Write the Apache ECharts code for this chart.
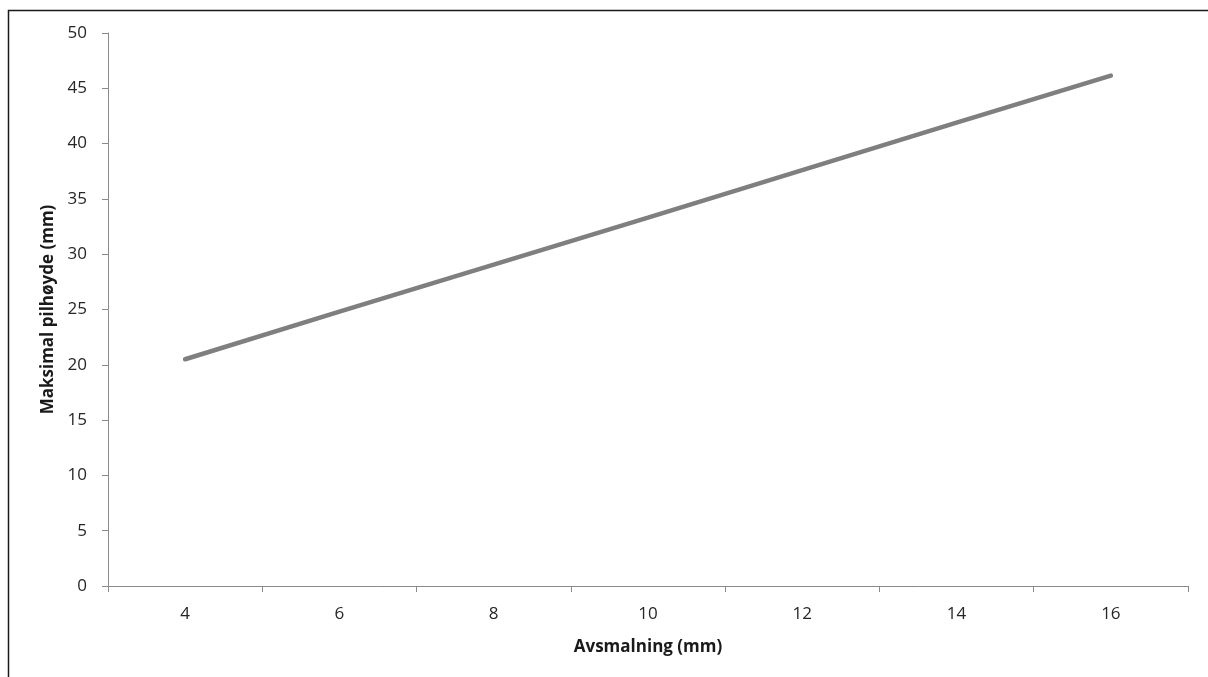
<!DOCTYPE html>
<html>
<head>
<meta charset="utf-8">
<script src="https://cdn.jsdelivr.net/npm/echarts@6/dist/echarts.min.js"></script>
<style>
html,body{margin:0;padding:0;background:#fff;}
#c{width:1208px;height:677px;}
</style>
</head>
<body>
<div id="c"></div>
<script>
const categories = ['4', '6', '8', '10', '12', '14', '16'];
const heights = [20.5, 24.8, 29.05, 33.3, 37.6, 41.9, 46.15];
const xTitle = 'Avsmalning (mm)';
const yTitle = 'Maksimal pilhøyde (mm)';

const chart = echarts.init(document.getElementById('c'), null, {renderer: 'canvas'});
const font = '"Open Sans", "DejaVu Sans", sans-serif';
const axisGray = '#8a8a8a';
chart.setOption({
  animation: false,
  backgroundColor: '#fff',
  graphic: [{
    type: 'rect',
    shape: {x: 8.5, y: 10.5, width: 1400, height: 900},
    style: {fill: 'none', stroke: '#1a1a1a', lineWidth: 1.5},
    silent: true
  }],
  grid: {left: 108, right: 20, top: 33, bottom: 91},
  xAxis: {
    type: 'category',
    data: categories,
    boundaryGap: true,
    name: xTitle,
    nameLocation: 'middle',
    nameGap: 53,
    nameTextStyle: {fontFamily: font, fontSize: 17, fontWeight: 'bold', color: '#1a1a1a'},
    axisLine: {lineStyle: {color: axisGray, width: 1}},
    axisTick: {show: true, alignWithLabel: false, length: 6, lineStyle: {color: axisGray}},
    axisLabel: {fontFamily: font, fontSize: 17, color: '#262626', margin: 20}
  },
  yAxis: {
    type: 'value',
    min: 0, max: 50, interval: 5,
    name: yTitle,
    nameLocation: 'middle',
    nameGap: 49,
    nameTextStyle: {fontFamily: font, fontSize: 17, fontWeight: 'bold', color: '#1a1a1a'},
    axisLine: {show: true, lineStyle: {color: axisGray, width: 1}},
    axisTick: {show: true, length: 6, lineStyle: {color: axisGray}},
    splitLine: {show: false},
    axisLabel: {fontFamily: font, fontSize: 17, color: '#262626', margin: 21}
  },
  series: [{
    type: 'line',
    data: heights,
    showSymbol: false,
    symbol: 'none',
    lineStyle: {color: '#7f7f7f', width: 4.5, cap: 'round'}
  }]
});
</script>
</body>
</html>
